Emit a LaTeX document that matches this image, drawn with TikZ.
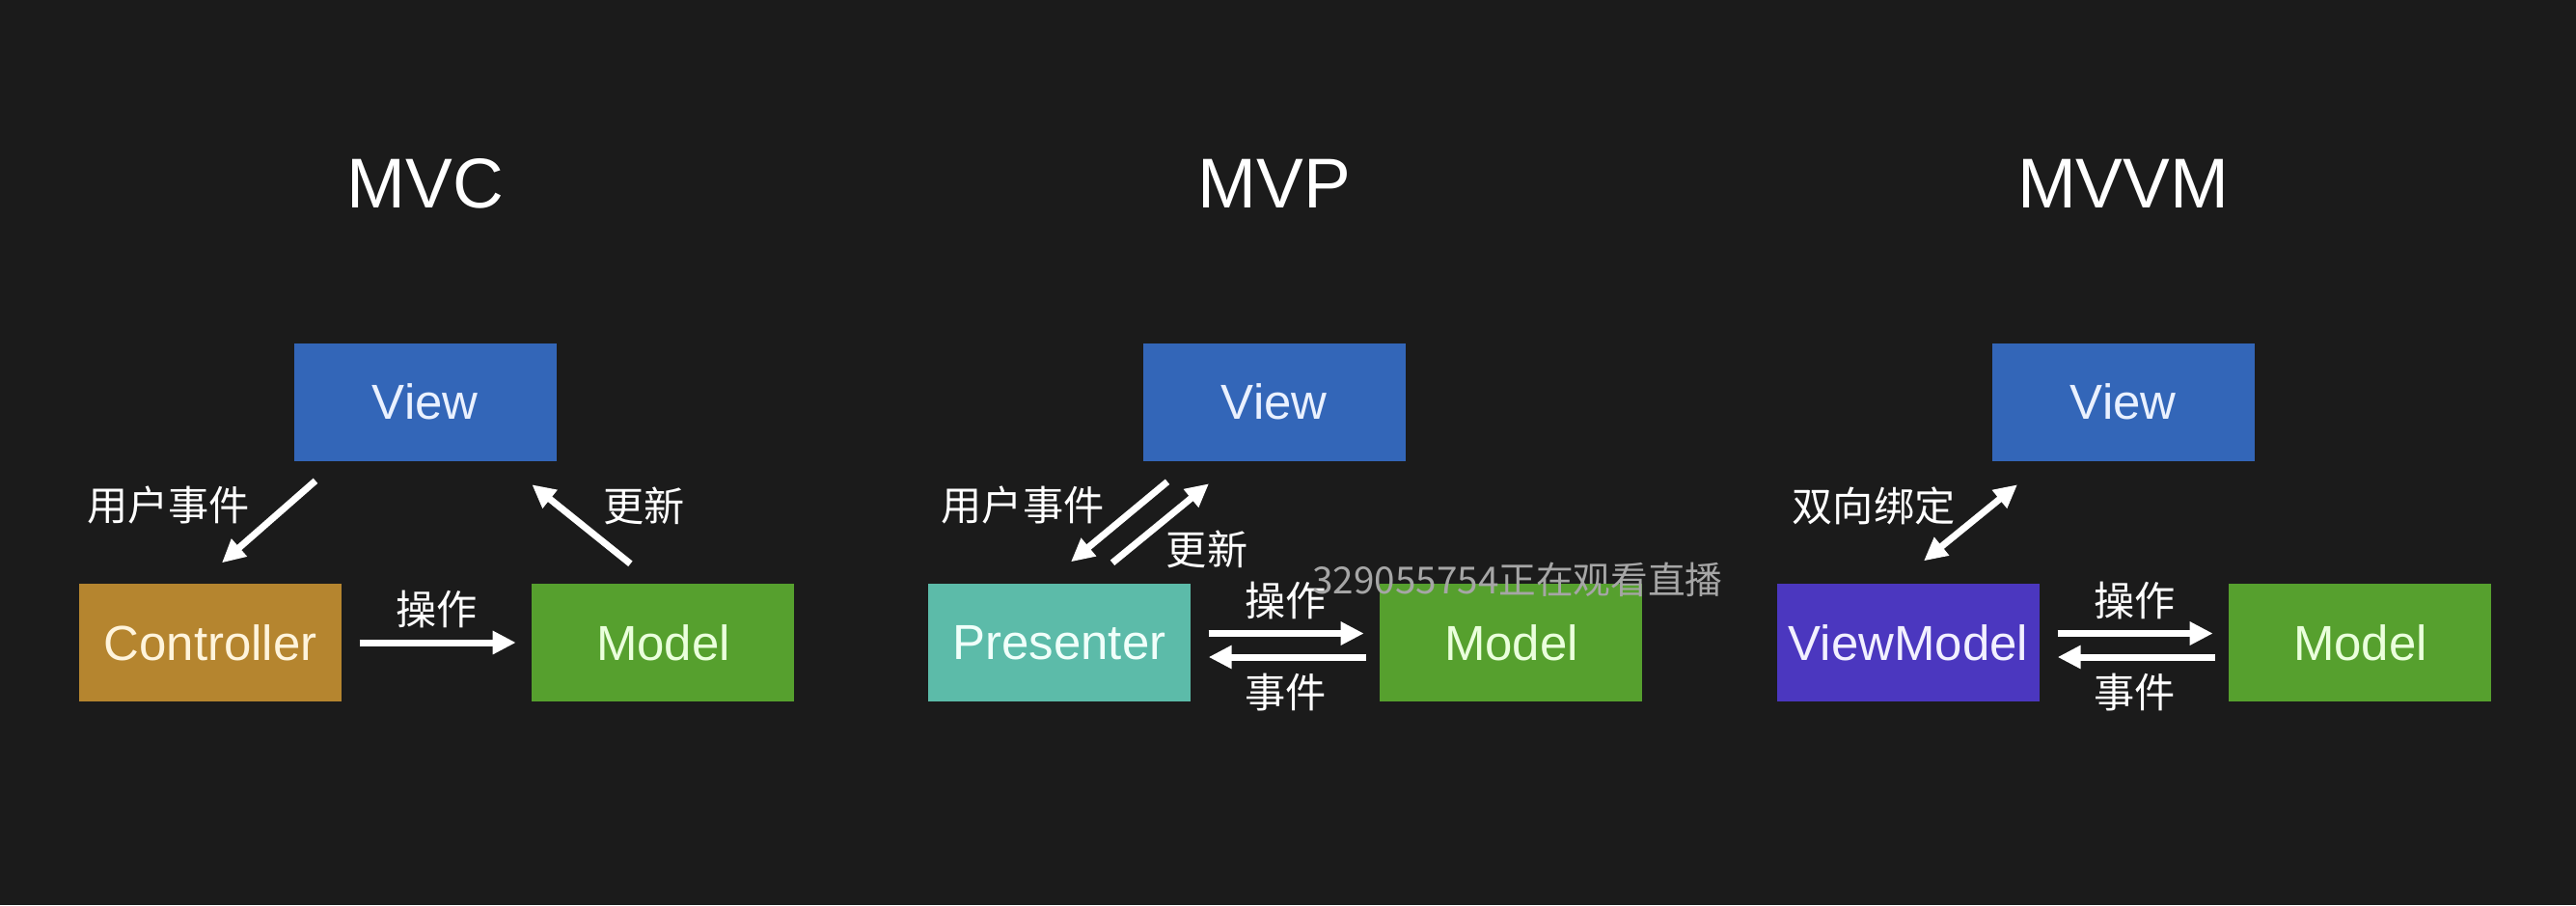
\documentclass[tikz,border=0pt]{standalone}
\usepackage{fontspec}
\setmainfont{Liberation Sans}
\newfontfamily\cjk{Noto Sans CJK SC}
\usepackage{tikz}
\usetikzlibrary{positioning}
\usetikzlibrary{calc}
\usetikzlibrary{arrows.meta}

\definecolor{bgDark}{HTML}{1B1B1B}
\definecolor{viewBlue}{HTML}{3366B8}
\definecolor{ctrlBrown}{HTML}{B5852F}
\definecolor{modelGreen}{HTML}{56A02E}
\definecolor{presTeal}{HTML}{5CBBA9}
\definecolor{vmPurple}{HTML}{4B37BF}
\definecolor{viewText}{HTML}{EAF1FF}
\definecolor{ctrlText}{HTML}{FFF4DC}
\definecolor{modelText}{HTML}{EAFFDC}
\definecolor{presText}{HTML}{F0FFFA}
\definecolor{vmText}{HTML}{F2F0FF}
\definecolor{viewerGray}{HTML}{A6A6A6}

\tikzset{
	box/.style={
		draw=none,
		inner sep=0pt,
		minimum width=27.2mm,
		minimum height=12.2mm,
		font=\fontsize{14.5}{17}\selectfont
	},
	heading/.style={text=white, font=\fontsize{20.8}{25}\selectfont},
	lbl/.style={text=white, font=\cjk\fontsize{12}{14}\selectfont},
	flow/.style={white, line width=0.7mm, -{Triangle[length=2.4mm, width=2.3mm]}},
	twoway/.style={white, line width=0.7mm, {Triangle[length=2.4mm, width=2.3mm]}-{Triangle[length=2.4mm, width=2.3mm]}},
	viewers/.style={text=viewerGray, font=\cjk\fontsize{11}{13}\selectfont}
}

\begin{document}
\begin{tikzpicture}[x=1mm, y=1mm]

\fill[bgDark] (0,0) rectangle (267,-93.8);
\useasboundingbox (0,0) rectangle (267,-93.8);

% --- MVC

\node[
	box,
	fill=ctrlBrown,
	text=ctrlText
] (ctrl) at (21.8,-66.6) {Controller};

\node[
	box,
	fill=modelGreen,
	text=modelText,
	right=19.6mm of ctrl
] (mvcModel) {Model};

\node[
	box,
	fill=viewBlue,
	text=viewText,
	above=12.6mm of ctrl.north east,
	xshift=8.6mm
] (mvcView) {View};

\node[heading, above=13.9mm of mvcView, anchor=base] (mvcTitle) {MVC};

\draw[flow] ($(mvcView.south west)+(2.3,-2.0)$) -- ($(ctrl.north)+(1.2,2.1)$)
	node[lbl, midway, xshift=-10.4mm, yshift=1.7mm]{用户事件};

\draw[flow] ($(mvcModel.north)+(-3.4,2.0)$) -- ($(mvcView.south east)+(-2.6,-2.4)$)
	node[lbl, midway, xshift=6.5mm, yshift=1.9mm]{更新};

\draw[flow, shorten <=1.8mm, shorten >=1.6mm] (ctrl.east) -- (mvcModel.west)
	node[lbl, midway, yshift=3.5mm]{操作};

% --- MVP

\node[
	box,
	fill=presTeal,
	text=presText
] (pres) at (109.8,-66.6) {Presenter};

\node[
	box,
	fill=modelGreen,
	text=modelText,
	right=19.5mm of pres
] (mvpModel) {Model};

\node[
	box,
	fill=viewBlue,
	text=viewText,
	above=12.6mm of pres.north east,
	xshift=8.6mm
] (mvpView) {View};

\node[heading, above=13.9mm of mvpView, anchor=base] (mvpTitle) {MVP};

\draw[flow] ($(mvpView.south west)+(2.6,-2.1)$) -- ($(pres.north)+(1.2,2.2)$)
	node[lbl, midway, xshift=-10.0mm, yshift=1.75mm]{用户事件};

\draw[flow] ($(pres.north)+(5.5,2.1)$) -- ($(mvpView.south west)+(6.9,-2.3)$)
	node[lbl, midway, xshift=4.8mm, yshift=-2.7mm]{更新};

\draw[flow, shorten <=1.8mm, shorten >=1.6mm] ($(pres.east)+(0,0.95)$) -- ($(mvpModel.west)+(0,0.95)$)
	node[lbl, midway, yshift=3.4mm]{操作};

\draw[flow, shorten <=1.4mm, shorten >=1.8mm] ($(mvpModel.west)+(0,-1.5)$) -- ($(pres.east)+(0,-1.5)$)
	node[lbl, midway, yshift=-3.7mm]{事件};

\node[viewers] (liveCount) at (157.3,-60.1) {329055754正在观看直播};

% --- MVVM

\node[
	box,
	fill=vmPurple,
	text=vmText
] (vm) at (197.8,-66.6) {ViewModel};

\node[
	box,
	fill=modelGreen,
	text=modelText,
	right=19.5mm of vm
] (mvvmModel) {Model};

\node[
	box,
	fill=viewBlue,
	text=viewText,
	above=12.6mm of vm.north east,
	xshift=8.6mm
] (mvvmView) {View};

\node[heading, above=13.9mm of mvvmView, anchor=base] (mvvmTitle) {MVVM};

\draw[twoway] ($(vm.north)+(1.6,2.3)$) -- ($(mvvmView.south west)+(2.7,-2.4)$)
	node[lbl, midway, xshift=-10.05mm, yshift=1.75mm]{双向绑定};

\draw[flow, shorten <=1.8mm, shorten >=1.6mm] ($(vm.east)+(0,0.95)$) -- ($(mvvmModel.west)+(0,0.95)$)
	node[lbl, midway, yshift=3.4mm]{操作};

\draw[flow, shorten <=1.4mm, shorten >=1.8mm] ($(mvvmModel.west)+(0,-1.5)$) -- ($(vm.east)+(0,-1.5)$)
	node[lbl, midway, yshift=-3.7mm]{事件};

\end{tikzpicture}
\end{document}
